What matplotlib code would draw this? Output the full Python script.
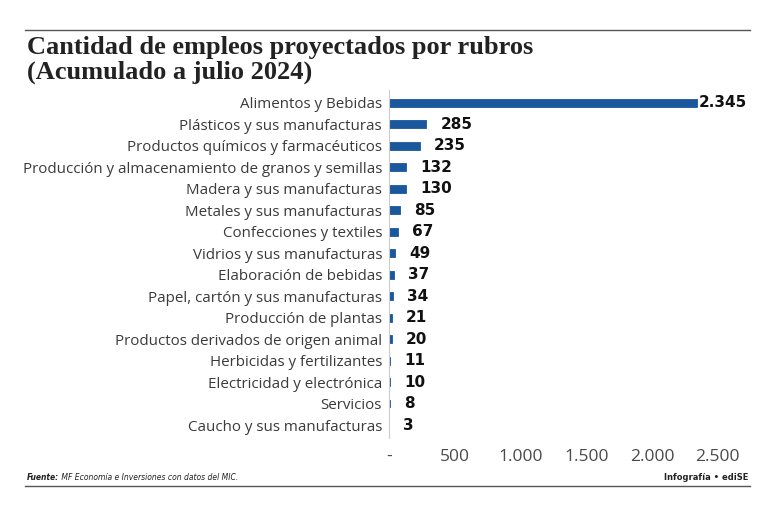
import matplotlib
matplotlib.use('Agg')
import matplotlib.pyplot as plt
from matplotlib.lines import Line2D

# data
rubros = ['Alimentos y Bebidas', 'Plásticos y sus manufacturas',
          'Productos químicos y farmacéuticos',
          'Producción y almacenamiento de granos y semillas',
          'Madera y sus manufacturas', 'Metales y sus manufacturas',
          'Confecciones y textiles', 'Vidrios y sus manufacturas',
          'Elaboración de bebidas', 'Papel, cartón y sus manufacturas',
          'Producción de plantas', 'Productos derivados de origen animal',
          'Herbicidas y fertilizantes', 'Electricidad y electrónica',
          'Servicios', 'Caucho y sus manufacturas']
empleos = [2345, 285, 235, 132, 130, 85, 67, 49, 37, 34, 21, 20, 11, 10, 8, 3]
ticks = [0, 500, 1000, 1500, 2000, 2500]
tick_labels = ['-', '500', '1.000', '1.500', '2.000', '2.500']

fig = plt.figure(figsize=(7.7, 5.13), dpi=100)
ax = fig.add_axes([0.5052, 0.1462, 0.444, 0.6784])

pos = list(range(len(rubros)))
ax.barh(pos, empleos, height=0.36, color='#1b579c', edgecolor='#1b579c', linewidth=0.6)
ax.set_ylim(len(rubros) - 0.4, -0.6)
ax.set_xlim(0, 2600)

for i, v in enumerate(empleos):
    lbl = '{:,}'.format(v).replace(',', '.')
    off = 1 if v == max(empleos) else 10
    ax.annotate(lbl, (v, i), xytext=(off, 0), textcoords='offset points',
                va='center', ha='left', fontsize=11, family='DejaVu Sans',
                fontweight='bold', color='#111111')

ax.set_yticks(pos)
ax.set_yticklabels(rubros, family='Open Sans', fontsize=10.9, color='#3a3a3a')
ax.set_xticks(ticks)
ax.set_xticklabels(tick_labels, family='Open Sans', fontsize=12.5, color='#4a4a4a')
ax.tick_params(axis='both', length=0)
ax.tick_params(axis='y', pad=5)
ax.tick_params(axis='x', pad=8)

for s in ['top', 'right', 'bottom']:
    ax.spines[s].set_visible(False)
ax.spines['left'].set_color('#cccccc')
ax.spines['left'].set_linewidth(0.8)

# title and frame lines
fig.add_artist(Line2D([0.032, 0.974], [0.942, 0.942], color='#555555', lw=1))
fig.text(0.035, 0.930, 'Cantidad de empleos proyectados por rubros\n(Acumulado a julio 2024)',
         ha='left', va='top', fontsize=19, fontweight='bold',
         family='Liberation Serif', color='#222222', linespacing=1.1)

fig.add_artist(Line2D([0.032, 0.974], [0.052, 0.052], color='#555555', lw=1))
src = fig.text(0.035, 0.060, 'Fuente:', ha='left', va='bottom', fontsize=5.5,
               fontweight='bold', style='italic', color='#222222')
rest = fig.text(0, 0.060, ' MF Economía e Inversiones con datos del MIC.', ha='left',
                va='bottom', fontsize=5.5, style='italic', color='#222222')
fig.canvas.draw()
bb = src.get_window_extent()
rest.set_x(bb.x1 / fig.bbox.width)
fig.text(0.972, 0.060, 'Infografía • ediSE', ha='right', va='bottom', fontsize=6,
         fontweight='bold', color='#222222')

fig.savefig('out.png', dpi=100, facecolor='white')
